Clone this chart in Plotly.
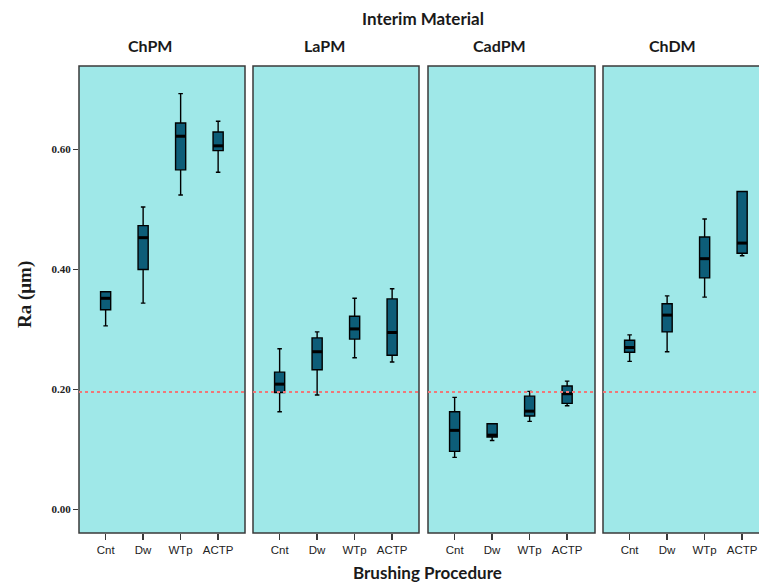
import plotly.graph_objects as go

# ---- data ----
materials = ["ChPM", "LaPM", "CadPM", "ChDM"]
procedures = ["Cnt", "Dw", "WTp", "ACTP"]

lower = {
    "ChPM":  [0.306, 0.344, 0.524, 0.562],
    "LaPM":  [0.163, 0.191, 0.253, 0.246],
    "CadPM": [0.087, 0.115, 0.147, 0.173],
    "ChDM":  [0.247, 0.263, 0.354, 0.423],
}
q1 = {
    "ChPM":  [0.333, 0.400, 0.566, 0.598],
    "LaPM":  [0.195, 0.233, 0.284, 0.257],
    "CadPM": [0.097, 0.121, 0.156, 0.177],
    "ChDM":  [0.262, 0.296, 0.386, 0.427],
}
median = {
    "ChPM":  [0.352, 0.453, 0.622, 0.606],
    "LaPM":  [0.209, 0.263, 0.301, 0.295],
    "CadPM": [0.132, 0.124, 0.164, 0.193],
    "ChDM":  [0.270, 0.324, 0.418, 0.444],
}
q3 = {
    "ChPM":  [0.363, 0.473, 0.644, 0.629],
    "LaPM":  [0.229, 0.286, 0.322, 0.351],
    "CadPM": [0.163, 0.143, 0.189, 0.206],
    "ChDM":  [0.282, 0.343, 0.454, 0.530],
}
upper = {
    "ChPM":  [0.363, 0.504, 0.693, 0.647],
    "LaPM":  [0.268, 0.296, 0.352, 0.368],
    "CadPM": [0.187, 0.143, 0.197, 0.214],
    "ChDM":  [0.291, 0.356, 0.484, 0.530],
}
REF_LINE = 0.196
y_ticks = [0.0, 0.2, 0.4, 0.6]

# ---- styling ----
BG = "#9fe8e8"
BOX_FILL = "#0d5d78"
FRAME = "#3a3a3a"
SANS = "Lato, 'Open Sans', sans-serif"
SERIF = "'Liberation Serif', 'DejaVu Serif', serif"

W, H = 759, 582
PLOT_L, PLOT_T, PLOT_B = 79, 66, 533  # page pixels
plot_w = W - PLOT_L
plot_h = PLOT_B - PLOT_T
panel_px = [(79, 245), (253, 419), (428, 595), (603, 759)]
domains = [((a - PLOT_L) / plot_w, (b - PLOT_L) / plot_w) for a, b in panel_px]
px_per_unit = 37.5
box_w = 0.27


def px(xp):
    return (xp - PLOT_L) / plot_w


def py(yp):
    return (PLOT_B - yp) / plot_h


fig = go.Figure()
idx = list(range(len(procedures)))

for k, m in enumerate(materials):
    xa = "x" if k == 0 else f"x{k+1}"
    ya = "y" if k == 0 else f"y{k+1}"
    fig.add_trace(go.Box(
        x=idx, q1=q1[m], median=median[m], q3=q3[m],
        lowerfence=lower[m], upperfence=upper[m],
        width=box_w, whiskerwidth=0.45,
        fillcolor=BOX_FILL, line=dict(color="black", width=1.4),
        boxpoints=False, showlegend=False, hoverinfo="skip",
        xaxis=xa, yaxis=ya,
    ))
    # thicker median bars
    mx, my = [], []
    for i, v in zip(idx, median[m]):
        mx += [i - box_w / 2, i + box_w / 2, None]
        my += [v, v, None]
    fig.add_trace(go.Scatter(
        x=mx, y=my, mode="lines", line=dict(color="black", width=3),
        showlegend=False, hoverinfo="skip", xaxis=xa, yaxis=ya,
    ))

layout = dict(
    width=W, height=H,
    margin=dict(l=PLOT_L, r=0, t=PLOT_T, b=H - PLOT_B),
    paper_bgcolor="white", plot_bgcolor=BG,
    showlegend=False,
)

shapes = []
annotations = []
for k, m in enumerate(materials):
    sfx = "" if k == 0 else str(k + 1)
    d0, d1 = domains[k]
    width_px = panel_px[k][1] - panel_px[k][0]
    left = -0.71
    right = left + width_px / px_per_unit
    layout["xaxis" + sfx] = dict(
        domain=[d0, d1], range=[left, right],
        tickmode="array", tickvals=idx, ticktext=procedures,
        ticks="outside", ticklen=6, tickwidth=1.5, tickcolor=FRAME,
        showgrid=False, zeroline=False, showline=False,
        tickfont=dict(family="'Liberation Sans', Arial, sans-serif", size=11.5, color="#222"),
        anchor="y" + sfx, fixedrange=True,
    )
    ydict = dict(
        domain=[0, 1], range=[-0.039, 0.739],
        showgrid=False, zeroline=False, showline=False,
        anchor="x" + sfx, fixedrange=True,
    )
    if k == 0:
        ydict.update(
            tickmode="array", tickvals=y_ticks,
            ticktext=[f"{v:.2f}" for v in y_ticks],
            ticks="outside", ticklen=5, tickwidth=1.5, tickcolor=FRAME,
            tickfont=dict(family=SERIF, size=11, color="#222", weight="bold"),
        )
    else:
        ydict.update(showticklabels=False, ticks="")
    layout["yaxis" + sfx] = ydict

    xr = "x" + sfx
    yr = "y" + sfx
    # panel frame
    shapes.append(dict(
        type="rect", xref=xr + " domain", yref=yr + " domain",
        x0=0, x1=1.0 if k < 3 else 1.2, y0=0, y1=1,
        line=dict(color=FRAME, width=1.5), fillcolor="rgba(0,0,0,0)", layer="above",
    ))
    # reference dotted line
    shapes.append(dict(
        type="line", xref=xr + " domain", yref=yr,
        x0=0, x1=1, y0=REF_LINE, y1=REF_LINE,
        line=dict(color="#f07878", width=2, dash="dot"), layer="above",
    ))

# panel titles
title_x_px = [150, 324.5, 499, 672]
for m, xp in zip(materials, title_x_px):
    annotations.append(dict(
        text=m, xref="paper", yref="paper",
        x=px(xp), y=py(45.5),
        xanchor="center", yanchor="middle", showarrow=False,
        font=dict(family=SANS, size=16, color="#1a1a1a", weight="bold"),
    ))

annotations.append(dict(
    text="Interim Material", xref="paper", yref="paper",
    x=px(423), y=py(19),
    xanchor="center", yanchor="middle", showarrow=False,
    font=dict(family=SANS, size=17, color="#1a1a1a", weight="bold"),
))
annotations.append(dict(
    text="Brushing Procedure", xref="paper", yref="paper",
    x=px(427), y=py(572),
    xanchor="center", yanchor="middle", showarrow=False,
    font=dict(family=SANS, size=17, color="#1a1a1a", weight="bold"),
))
annotations.append(dict(
    text="Ra (μm)", xref="paper", yref="paper",
    x=px(25), y=py(295),
    xanchor="center", yanchor="middle", showarrow=False, textangle=-90,
    font=dict(family=SERIF, size=19, color="#1a1a1a", weight="bold"),
))

layout["shapes"] = shapes
layout["annotations"] = annotations
fig.update_layout(**layout)

# remove the default page margin so the figure fills the window exactly
fig.write_html(
    "out.html",
    config={"displayModeBar": False, "staticPlot": True},
    post_script="document.body.style.margin='0';document.body.style.overflow='hidden';",
)
